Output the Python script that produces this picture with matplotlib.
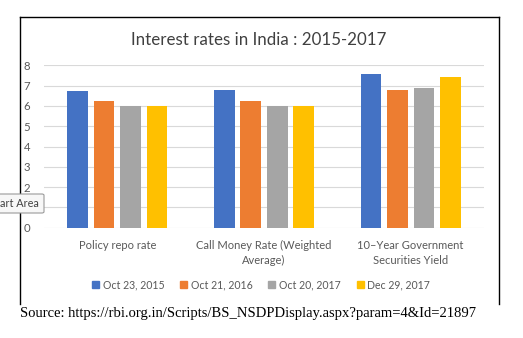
import numpy as np
import matplotlib
matplotlib.use("Agg")
import matplotlib.pyplot as plt
import matplotlib.patches as mpatches
import matplotlib.lines as mlines

plt.rcParams['font.family'] = ['Lato', 'DejaVu Sans']

# Datos
categorias = ["Policy repo rate", "Call Money Rate (Weighted\nAverage)",
              "10\u2013Year Government\nSecurities Yield"]
fechas = ["Oct 23, 2015", "Oct 21, 2016", "Oct 20, 2017", "Dec 29, 2017"]
oct_2015 = [6.75, 6.78, 7.55]
oct_2016 = [6.25, 6.25, 6.79]
oct_2017 = [6.00, 6.00, 6.90]
dic_2017 = [6.00, 6.00, 7.43]
series = [oct_2015, oct_2016, oct_2017, dic_2017]
colores = ["#4472C4", "#ED7D31", "#A5A5A5", "#FFC000"]
ticks_y = list(range(0, 9))
# el "1" queda tapado por el tooltip en la captura
etiquetas_y = ["0", "", "2", "3", "4", "5", "6", "7", "8"]

fig = plt.figure(figsize=(5.23, 3.38), dpi=100)
W, H = 523, 338

def fx(px):
    return px / W

def fy(py):
    return 1 - py / H

ax = fig.add_axes([fx(44), fy(227.7), fx(484) - fx(44), fy(65.3) - fy(227.7)])

x = np.arange(len(categorias))
ancho = 0.141
paso = 0.18
for i, (vals, col) in enumerate(zip(series, colores)):
    ax.bar(x + (i - 1.5) * paso, vals, width=ancho, color=col, zorder=3, label=fechas[i])

ax.set_xlim(-0.5, 2.5)
ax.set_ylim(0, 8)
ax.set_yticks(ticks_y)
ax.set_yticklabels(etiquetas_y, fontsize=8.2, color="#595959")
ax.set_xticks(x)
ax.set_xticklabels(categorias, fontsize=8, color="#595959", linespacing=1.4)
ax.tick_params(axis="both", length=0)
ax.tick_params(axis="y", pad=10)
ax.tick_params(axis="x", pad=9)
ax.grid(axis="y", color="#D9D9D9", linewidth=0.8, zorder=0)
for s in ax.spines.values():
    s.set_visible(False)

# Título
fig.text(fx(258.5), fy(40), "Interest rates in India : 2015-2017", fontsize=12.2,
         color="#404040", ha="center", va="center")

# Leyenda
handles = [mpatches.Patch(color=c, label=f) for c, f in zip(colores, fechas)]
fig.legend(handles=handles, loc="center", bbox_to_anchor=(fx(261), fy(284.5)),
           ncol=4, frameon=False, fontsize=7.6, handlelength=0.66, handleheight=0.66,
           handletextpad=0.35, columnspacing=1.5, labelcolor="#595959")

# Marco del área del gráfico (sin borde inferior visible)
for xs, ys in [([19.5, 19.5], [17, 304]), ([19.5, 499], [17, 17]), ([499, 499], [17, 304])]:
    fig.add_artist(mlines.Line2D([fx(v) for v in xs], [fy(v) for v in ys],
                                 color="black", linewidth=1.0, transform=fig.transFigure))

# Tooltip recortado
fig.add_artist(mpatches.FancyBboxPatch((fx(-5), fy(213)), fx(49), fy(194) - fy(213),
                                       boxstyle="round,pad=0,rounding_size=0.004",
                                       facecolor="#F7F7F7", edgecolor="#9A9A9A",
                                       linewidth=0.8, transform=fig.transFigure, zorder=5))
fig.text(fx(0), fy(203.5), "art Area", fontsize=7.8, color="#404040",
         ha="left", va="center", zorder=6)

# Fuente
fig.text(fx(20), fy(314), "Source: https://rbi.org.in/Scripts/BS_NSDPDisplay.aspx?param=4&Id=21897",
         fontsize=10.5, family="Liberation Serif", color="black", ha="left", va="center")

fig.savefig("out.png", dpi=100)
